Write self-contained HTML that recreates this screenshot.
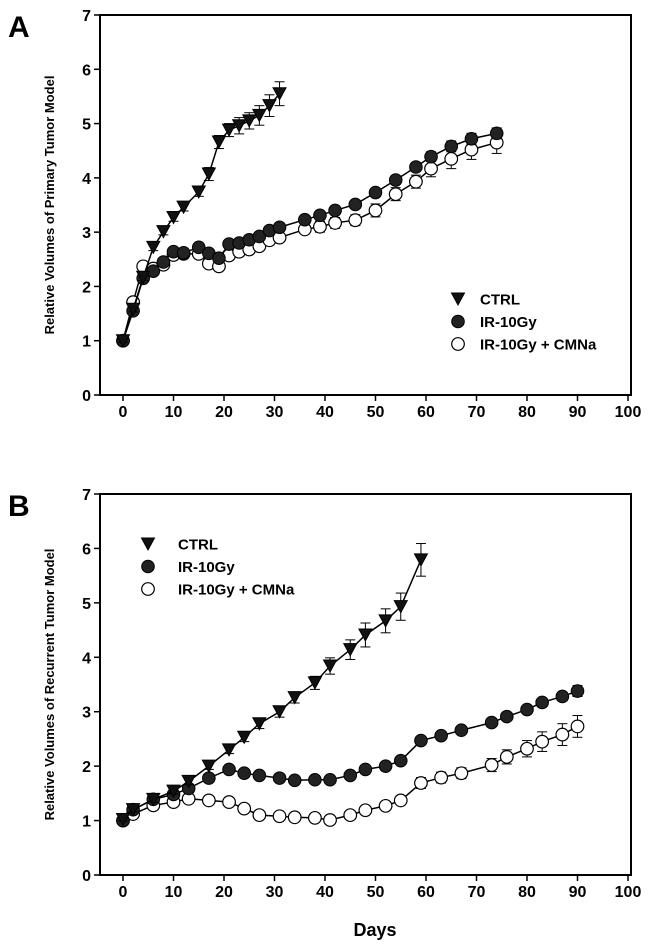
<!DOCTYPE html>
<html><head><meta charset="utf-8"><style>
body{margin:0;background:#fff}
svg{display:block;font-family:"Liberation Sans",Arial,sans-serif}
</style></head><body>
<svg width="650" height="946" viewBox="0 0 650 946">
<g id="root"></g>
</svg>
<script>
const xTicks=[0,10,20,30,40,50,60,70,80,90,100];
const yTicks=[0,1,2,3,4,5,6,7];
const daysA_ctrl=[0,2,4,6,8,10,12,15,17,19,21,23,25,27,29,31];
const A_ctrl=[1.0,1.58,2.17,2.72,3.01,3.27,3.46,3.74,4.07,4.66,4.88,4.96,5.05,5.15,5.33,5.55];
const A_ctrl_err=[0.03,0.05,0.06,0.06,0.06,0.07,0.07,0.08,0.12,0.12,0.12,0.15,0.15,0.18,0.2,0.22];
const daysA_ir=[0,2,4,6,8,10,12,15,17,19,21,23,25,27,29,31,36,39,42,46,50,54,58,61,65,69,74];
const A_ir=[1.0,1.55,2.15,2.28,2.45,2.64,2.62,2.72,2.61,2.52,2.78,2.8,2.86,2.92,3.03,3.09,3.23,3.31,3.4,3.51,3.73,3.96,4.2,4.39,4.58,4.72,4.82];
const A_ir_err=[0.03,0.05,0.05,0.05,0.05,0.05,0.05,0.05,0.05,0.05,0.05,0.05,0.05,0.05,0.05,0.05,0.06,0.06,0.06,0.06,0.07,0.08,0.08,0.09,0.1,0.1,0.1];
const A_cm=[1.0,1.71,2.37,2.33,2.4,2.58,2.6,2.6,2.42,2.37,2.57,2.64,2.68,2.74,2.85,2.9,3.05,3.1,3.17,3.22,3.4,3.7,3.93,4.17,4.35,4.52,4.65];
const A_cm_err=[0.03,0.05,0.05,0.05,0.05,0.05,0.05,0.05,0.05,0.05,0.05,0.05,0.05,0.05,0.05,0.05,0.07,0.1,0.1,0.1,0.12,0.12,0.12,0.15,0.18,0.18,0.2];
const daysB=[0,2,6,10,13,17,21,24,27,31,34,38,41,45,48,52,55,59,63,67,73,76,80,83,87,90];
const daysB_ctrl=[0,2,6,10,13,17,21,24,27,31,34,38,41,45,48,52,55,59];
const B_ctrl=[1.02,1.2,1.39,1.54,1.72,2.0,2.3,2.53,2.78,3.0,3.26,3.53,3.84,4.14,4.41,4.67,4.93,5.79];
const B_ctrl_err=[0.03,0.04,0.05,0.05,0.06,0.06,0.07,0.08,0.09,0.1,0.1,0.12,0.15,0.18,0.22,0.22,0.25,0.3];
const B_ir=[1.0,1.2,1.39,1.48,1.59,1.78,1.94,1.87,1.83,1.78,1.74,1.75,1.75,1.83,1.94,2.0,2.1,2.47,2.56,2.66,2.8,2.91,3.04,3.17,3.28,3.38];
const B_ir_err=[0.03,0.04,0.04,0.04,0.04,0.05,0.06,0.05,0.05,0.05,0.05,0.05,0.05,0.05,0.05,0.05,0.05,0.06,0.06,0.06,0.06,0.06,0.06,0.07,0.08,0.1];
const B_cm=[1.0,1.12,1.28,1.34,1.4,1.37,1.34,1.22,1.1,1.08,1.06,1.05,1.01,1.1,1.19,1.27,1.37,1.69,1.79,1.87,2.02,2.17,2.32,2.45,2.58,2.73];
const B_cm_err=[0.03,0.04,0.04,0.04,0.04,0.04,0.04,0.04,0.04,0.04,0.04,0.04,0.04,0.04,0.04,0.05,0.05,0.1,0.1,0.1,0.12,0.13,0.15,0.18,0.2,0.2];

const NS='http://www.w3.org/2000/svg';
const root=document.getElementById('root');
function el(tag,attrs,parent,text){const e=document.createElementNS(NS,tag);for(const k in attrs)e.setAttribute(k,attrs[k]);if(text!==undefined)e.textContent=text;(parent||root).appendChild(e);return e;}

function panel(letter,top,bottom,yTitle,series,legend,pname){
  const L=100,R=631;
  const g=el('g',{});
  
  
  const xs=d=>123+d*5.05;
  const ys=v=>bottom-v*(bottom-top)/7;
  const lt=el('text',{x:8,y:top+22,'font-size':30,'font-weight':'bold'},g,letter);
  
  
  const box=el('rect',{x:L,y:top,width:R-L,height:bottom-top,fill:'none',stroke:'#000','stroke-width':2},g);
  
  
  yTicks.forEach(t=>{const y=ys(t);
    el('line',{x1:L-6,x2:L,y1:y,y2:y,stroke:'#000','stroke-width':1.5},g);
    const tx=el('text',{x:L-9,y:y+6,'text-anchor':'end','font-size':16,'font-weight':'bold'},g,t);
    
    });
  xTicks.forEach(t=>{const x=xs(t);
    el('line',{x1:x,x2:x,y1:bottom,y2:bottom+6,stroke:'#000','stroke-width':1.5},g);
    const tx=el('text',{x:x,y:bottom+22,'text-anchor':'middle','font-size':16,'font-weight':'bold'},g,t);
    
    });
  const yt=el('text',{x:0,y:0,'font-size':13,'font-weight':'bold','text-anchor':'middle',transform:`translate(54,${(top+bottom)/2}) rotate(-90)`},g,yTitle);
  
  
  series.forEach(s=>{
    const sg=el('g',{},g);
    
    
    el('polyline',{points:s.days.map((d,i)=>xs(d)+','+ys(s.v[i])).join(' '),fill:'none',stroke:'#000','stroke-width':1.5},sg);
    s.days.forEach((d,i)=>{const x=xs(d),y1=ys(s.v[i]+s.e[i]),y2=ys(s.v[i]-s.e[i]);
      el('line',{x1:x,x2:x,y1:y1,y2:y2,stroke:'#000','stroke-width':1},sg);
      el('line',{x1:x-5,x2:x+5,y1:y1,y2:y1,stroke:'#000','stroke-width':1},sg);
      el('line',{x1:x-5,x2:x+5,y1:y2,y2:y2,stroke:'#000','stroke-width':1},sg);});
    s.days.forEach((d,i)=>{const m=marker(s.type,xs(d),ys(s.v[i]),sg);
      
      });
  });
  const lg=el('g',{},g);
  
  
  [['tri','CTRL'],['fill','IR-10Gy'],['open','IR-10Gy + CMNa']].forEach((it,i)=>{
    const y=legend.y+i*22.5;
    marker(it[0],legend.mx,y,lg);
    const t=el('text',{x:legend.tx,y:y+5.5,'font-size':15,'font-weight':'bold'},lg,it[1]);
    
    });
  return {xs,ys};
}
function marker(type,x,y,p){
  if(type==='tri') return el('path',{d:`M${x-6.5},${y-6} L${x+6.5},${y-6} L${x},${y+6} Z`,fill:'#111',stroke:'#000','stroke-width':1},p);
  if(type==='fill') return el('circle',{cx:x,cy:y,r:6.3,fill:'#222',stroke:'#000','stroke-width':1},p);
  return el('circle',{cx:x,cy:y,r:6.3,fill:'#fff',stroke:'#000','stroke-width':1.2},p);
}
panel('A',15,395,'Relative Volumes of Primary Tumor Model',[
 {name:'ir-10gy-cmna',type:'open',days:daysA_ir,v:A_cm,e:A_cm_err},
 {name:'ir-10gy',type:'fill',days:daysA_ir,v:A_ir,e:A_ir_err},
 {name:'ctrl',type:'tri',days:daysA_ctrl,v:A_ctrl,e:A_ctrl_err}],
 {mx:458,tx:480,y:299},'panel-a');
panel('B',494,875,'Relative Volumes of Recurrent Tumor Model',[
 {name:'ir-10gy-cmna',type:'open',days:daysB,v:B_cm,e:B_cm_err},
 {name:'ir-10gy',type:'fill',days:daysB,v:B_ir,e:B_ir_err},
 {name:'ctrl',type:'tri',days:daysB_ctrl,v:B_ctrl,e:B_ctrl_err}],
 {mx:148,tx:178,y:544},'panel-b');
const xt=el('text',{x:375,y:936,'text-anchor':'middle','font-size':18,'font-weight':'bold'},root,'Days');


</script>
</body></html>
